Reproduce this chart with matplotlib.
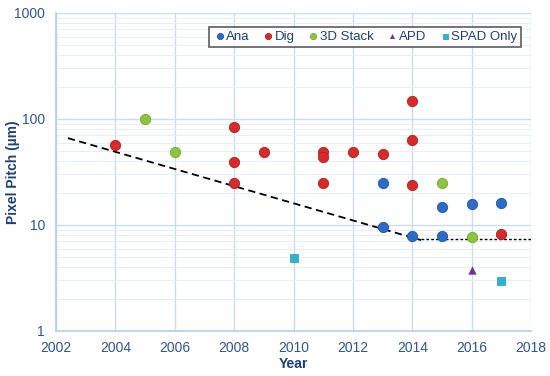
import matplotlib
matplotlib.use("Agg")
import matplotlib.pyplot as plt
from matplotlib.ticker import LogLocator, FixedLocator, NullFormatter

plt.rcParams['font.family'] = ['Liberation Sans', 'DejaVu Sans']

# Data
ana_x = [2013, 2013, 2014, 2015, 2015, 2016, 2017]
ana_y = [25, 9.6, 7.8, 14.8, 7.9, 15.8, 16.2]
dig_x = [2004, 2008, 2008, 2008, 2009, 2011, 2011, 2011, 2012, 2013, 2014, 2014, 2014, 2017]
dig_y = [57, 84, 39.5, 25, 49, 49, 44, 25, 49, 47, 148, 63, 24, 8.2]
stack_x = [2005, 2006, 2015, 2016]
stack_y = [99, 49, 25, 7.7]
apd_x = [2016]
apd_y = [3.8]
spad_x = [2010, 2017]
spad_y = [4.9, 2.95]
trend_x = [2002.4, 2014.3]
trend_y = [66, 7.2]
floor_x = [2014.3, 2018]
floor_y = [7.4, 7.4]

xticks = [2002, 2004, 2006, 2008, 2010, 2012, 2014, 2016, 2018]
yticks = [1, 10, 100, 1000]

tick_col = "#2F5597"
lab_col = "#1F3F7A"
grid_col = "#C9DDF0"

fig = plt.figure(figsize=(5.5, 3.76), dpi=100)
ax = fig.add_axes([56/550, 1-331/376, (531-56)/550, (331-13)/376])
ax.set_yscale("log")
ax.set_xlim(2002, 2018)
ax.set_ylim(1, 1000)

ax.plot(trend_x, trend_y, color="black", lw=1.3, ls=(0, (4, 2.5)), zorder=2)
ax.plot(floor_x, floor_y, color="black", lw=1.0, ls=(0, (2, 1.5)), zorder=2)

ms = 55
ax.scatter(ana_x, ana_y, s=ms, color="#2A6CC8", edgecolors="#1F56A8", linewidths=0.6, zorder=3, label="Ana")
ax.scatter(dig_x, dig_y, s=ms, color="#D72B2B", edgecolors="#B01F1F", linewidths=0.6, zorder=3, label="Dig")
ax.scatter(stack_x, stack_y, s=ms, color="#8CC43C", edgecolors="#74A830", linewidths=0.6, zorder=3, label="3D Stack")
ax.scatter(apd_x, apd_y, s=36, marker="^", color="#7030A0", linewidths=0, zorder=3, label="APD")
ax.scatter(spad_x, spad_y, s=36, marker="s", color="#2FB3CF", edgecolors="#2298B3", linewidths=0.5, zorder=3, label="SPAD Only")

ax.xaxis.set_major_locator(FixedLocator(xticks))
ax.yaxis.set_major_locator(FixedLocator(yticks))
ax.yaxis.set_minor_locator(LogLocator(base=10, subs=range(2, 10)))
ax.yaxis.set_minor_formatter(NullFormatter())
ax.set_xticklabels([str(t) for t in xticks])
ax.set_yticklabels([str(t) for t in yticks])

ax.grid(True, which="major", color=grid_col, lw=1.0, zorder=0)
ax.grid(True, which="minor", axis="y", color="#E6EEF7", lw=0.7, zorder=0)
ax.set_axisbelow(True)
for s in ["top", "right"]:
    ax.spines[s].set_visible(False)
for s in ["left", "bottom"]:
    ax.spines[s].set_color("#B8CCE4")
    ax.spines[s].set_linewidth(1.2)
ax.tick_params(which="both", length=0, labelsize=10, labelcolor=tick_col)
ax.tick_params(axis="y", pad=8)
ax.tick_params(axis="x", pad=7)

ax.set_xlabel("Year", fontsize=10, fontweight="bold", color=lab_col, labelpad=2)
ax.set_ylabel("Pixel Pitch (µm)", fontsize=10, fontweight="bold", color=lab_col)
ax.yaxis.set_label_coords(-0.076, 0.5)

leg = ax.legend(loc="upper right", bbox_to_anchor=(0.985, 0.965), ncol=5, fontsize=9.5,
                frameon=True, fancybox=False, edgecolor="#333333", handletextpad=0.0,
                handlelength=1.0, columnspacing=0.9, markerscale=0.6, borderpad=0.3,
                borderaxespad=0.2)
leg.get_frame().set_linewidth(1.2)
for t in leg.get_texts():
    t.set_color(lab_col)

fig.savefig("out.png", dpi=100)
